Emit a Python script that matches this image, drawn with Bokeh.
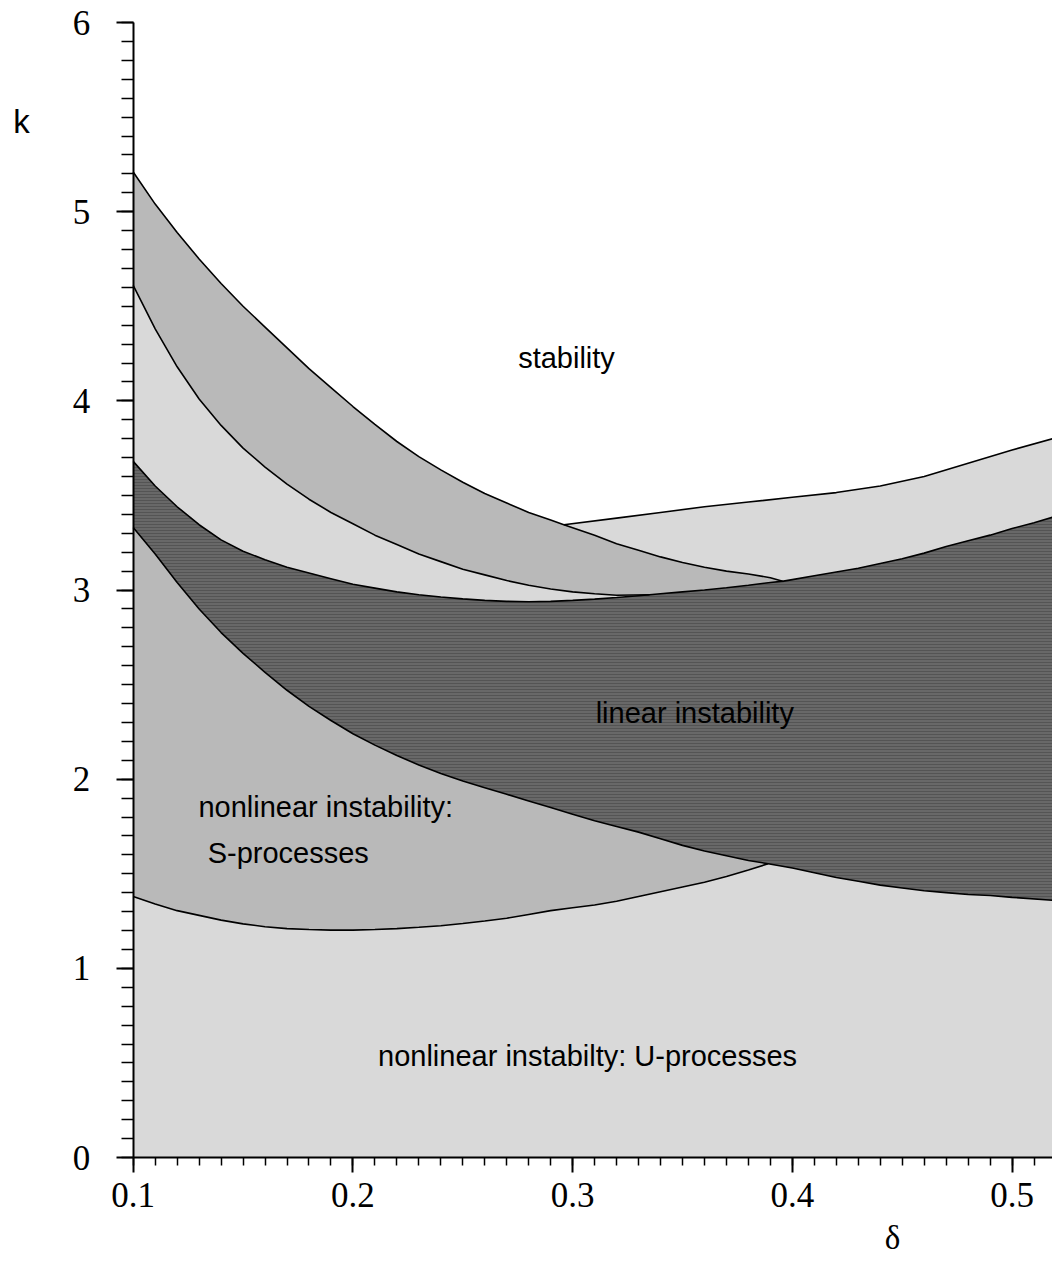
import numpy as np
from bokeh.plotting import figure
from bokeh.models import FixedTicker, Label, Range1d
from bokeh.embed import file_html
from bokeh.resources import INLINE

# ---- data (delta, k) ----
# A: upper boundary of the upper medium band (stability border on the left)
a_x = [0.10, 0.11, 0.12, 0.13, 0.14, 0.15, 0.16, 0.17, 0.18, 0.19, 0.20, 0.21, 0.22, 0.23,
       0.24, 0.25, 0.26, 0.27, 0.28, 0.29, 0.296, 0.31, 0.32, 0.33, 0.34, 0.35, 0.36, 0.37,
       0.38, 0.39, 0.396]
a_k = [5.21, 5.04, 4.89, 4.75, 4.62, 4.50, 4.39, 4.28, 4.17, 4.07, 3.97, 3.875, 3.785, 3.705,
       3.635, 3.57, 3.51, 3.46, 3.41, 3.37, 3.345, 3.29, 3.245, 3.21, 3.175, 3.145, 3.12, 3.10,
       3.085, 3.065, 3.045]
# B: lower boundary of the upper medium band (until it joins C)
b_x = [0.10, 0.11, 0.12, 0.13, 0.14, 0.15, 0.16, 0.17, 0.18, 0.19, 0.20, 0.21, 0.22, 0.23,
       0.24, 0.25, 0.26, 0.27, 0.28, 0.29, 0.30, 0.31, 0.32, 0.335]
b_k = [4.61, 4.38, 4.18, 4.01, 3.87, 3.75, 3.65, 3.56, 3.48, 3.41, 3.35, 3.29, 3.24, 3.19,
       3.15, 3.11, 3.08, 3.05, 3.025, 3.005, 2.99, 2.98, 2.972, 2.975]
# C: upper boundary of the linear-instability band
c_x = [0.10, 0.11, 0.12, 0.13, 0.14, 0.15, 0.16, 0.17, 0.18, 0.19, 0.20, 0.21, 0.22, 0.23,
       0.24, 0.25, 0.26, 0.27, 0.28, 0.29, 0.30, 0.31, 0.32, 0.33, 0.335, 0.34, 0.35, 0.36,
       0.37, 0.38, 0.39, 0.396, 0.40, 0.41, 0.42, 0.43, 0.44, 0.45, 0.46, 0.47, 0.48, 0.49,
       0.50, 0.51, 0.5185]
c_k = [3.68, 3.55, 3.44, 3.345, 3.265, 3.205, 3.16, 3.12, 3.09, 3.06, 3.03, 3.01, 2.99, 2.975,
       2.963, 2.953, 2.945, 2.94, 2.938, 2.94, 2.945, 2.952, 2.96, 2.97, 2.975, 2.98, 2.99, 3.0,
       3.012, 3.025, 3.04, 3.047, 3.055, 3.075, 3.095, 3.115, 3.14, 3.165, 3.195, 3.23, 3.26,
       3.29, 3.325, 3.355, 3.385]
# D: stability border on the right
d_x = [0.296, 0.32, 0.34, 0.36, 0.38, 0.40, 0.42, 0.44, 0.46, 0.48, 0.50, 0.5185]
d_k = [3.345, 3.38, 3.41, 3.44, 3.465, 3.49, 3.515, 3.55, 3.60, 3.67, 3.74, 3.80]
# E: lower boundary of the linear-instability band
e_x = [0.10, 0.11, 0.12, 0.13, 0.14, 0.15, 0.16, 0.17, 0.18, 0.19, 0.20, 0.21, 0.22, 0.23,
       0.24, 0.25, 0.26, 0.27, 0.28, 0.29, 0.30, 0.31, 0.32, 0.33, 0.34, 0.35, 0.36, 0.37,
       0.38, 0.389, 0.40, 0.41, 0.42, 0.43, 0.44, 0.45, 0.46, 0.47, 0.48, 0.49, 0.50, 0.5185]
e_k = [3.33, 3.19, 3.04, 2.90, 2.775, 2.665, 2.565, 2.47, 2.385, 2.31, 2.24, 2.18, 2.125, 2.075,
       2.03, 1.99, 1.955, 1.92, 1.885, 1.85, 1.815, 1.78, 1.75, 1.72, 1.685, 1.65, 1.62, 1.595,
       1.57, 1.553, 1.53, 1.505, 1.48, 1.46, 1.44, 1.425, 1.41, 1.40, 1.39, 1.385, 1.375, 1.36]
# F: lower boundary of the S-processes region
f_x = [0.10, 0.11, 0.12, 0.13, 0.14, 0.15, 0.16, 0.17, 0.18, 0.19, 0.20, 0.21, 0.22, 0.23,
       0.24, 0.25, 0.26, 0.27, 0.28, 0.29, 0.30, 0.31, 0.32, 0.33, 0.34, 0.35, 0.36, 0.37,
       0.38, 0.389]
f_k = [1.38, 1.34, 1.305, 1.28, 1.255, 1.235, 1.22, 1.21, 1.205, 1.202, 1.202, 1.205, 1.21, 1.217,
       1.225, 1.237, 1.25, 1.265, 1.285, 1.305, 1.32, 1.335, 1.355, 1.38, 1.405, 1.43, 1.455, 1.485,
       1.52, 1.553]

x_major = [0.1, 0.2, 0.3, 0.4, 0.5]
y_major = [0, 1, 2, 3, 4, 5, 6]

LIGHT = "#d9d9d9"
MED = "#b9b9b9"
DARK = "#686868"

X0, X1 = 0.1, 0.5184
p = figure(width=1052, height=1264, x_range=Range1d(0.0396, X1), y_range=Range1d(-0.5656, 6.1163),
           output_backend="svg", toolbar_location=None, min_border=0)
p.xgrid.visible = False
p.ygrid.visible = False
p.outline_line_color = None
p.background_fill_color = "white"
p.border_fill_color = "white"

# light region below the stability border
na = a_x.index(0.296)
top_x = np.array(a_x[:na] + d_x)
top_k = np.array(a_k[:na] + d_k)
p.varea(x=top_x, y1=np.zeros(len(top_x)), y2=top_k, fill_color=LIGHT)

# upper medium band: between A and max(B, C)
nc0 = c_x.index(0.34)
nc1 = c_x.index(0.396)
low_x = b_x + c_x[nc0:nc1 + 1]
low_k = b_k + c_k[nc0:nc1 + 1]
p.patch(x=list(a_x) + low_x[::-1], y=list(a_k) + low_k[::-1],
        fill_color=MED, line_color=None)

# S-processes region: between F and E
ne = e_x.index(0.389)
p.patch(x=f_x + e_x[:ne + 1][::-1], y=f_k + e_k[:ne + 1][::-1],
        fill_color=MED, line_color=None)

# linear instability band: between E and C
p.patch(x=c_x + e_x[::-1], y=c_k + e_k[::-1], fill_color=DARK, line_color=None,
        hatch_pattern="-", hatch_scale=3, hatch_color="#3c3c3c", hatch_alpha=0.45,
        hatch_weight=1)

# boundary lines
for xs, ks in [(a_x, a_k), (b_x, b_k), (c_x, c_k), (d_x, d_k), (e_x, e_k), (f_x, f_k)]:
    p.line(xs, ks, line_color="black", line_width=1.6)

# axes, placed inside the frame at delta=0.1 and k=0
serif = "Liberation Serif"
sans = "Liberation Sans"
p.xaxis.fixed_location = 0
p.xaxis.bounds = (X0, X1)
p.yaxis.fixed_location = X0
p.yaxis.bounds = (0, 6)
p.xaxis.ticker = FixedTicker(ticks=x_major, minor_ticks=[round(0.1 + 0.01 * i, 2) for i in range(42)])
p.yaxis.ticker = FixedTicker(ticks=y_major, minor_ticks=[round(0.1 * i, 1) for i in range(61)])
for ax in (p.xaxis[0], p.yaxis[0]):
    ax.axis_line_color = "black"
    ax.axis_line_width = 2
    ax.major_tick_line_color = "black"
    ax.minor_tick_line_color = "black"
    ax.major_tick_line_width = 2
    ax.minor_tick_line_width = 1.5
    ax.major_tick_in = 0
    ax.minor_tick_in = 0
    ax.major_label_text_font = serif
    ax.major_label_text_font_size = "35px"
    ax.major_label_text_color = "black"
p.xaxis.major_tick_out = 15
p.xaxis.minor_tick_out = 8
p.xaxis.major_label_standoff = 10
p.yaxis.major_tick_out = 17
p.yaxis.minor_tick_out = 12
p.yaxis.major_label_standoff = 26

# texts
def lab(x, y, t, font=sans, size="29px", align="center"):
    p.add_layout(Label(x=x, y=y, text=t, text_font=font, text_font_size=size,
                       text_align=align, text_baseline="middle", text_color="black"))

lab(0.2972, 4.224, "stability")
lab(0.3556, 2.352, "linear instability")
lab(0.1297, 1.855, "nonlinear instability:", align="left")
lab(0.1339, 1.612, "S-processes", align="left")
lab(0.3068, 0.539, "nonlinear instabilty: U-processes")
lab(0.0492, 5.477, "k", size="33px")
lab(0.4456, -0.425, "δ", font=serif, size="33px")

open("out.html", "w").write(file_html(p, INLINE))
